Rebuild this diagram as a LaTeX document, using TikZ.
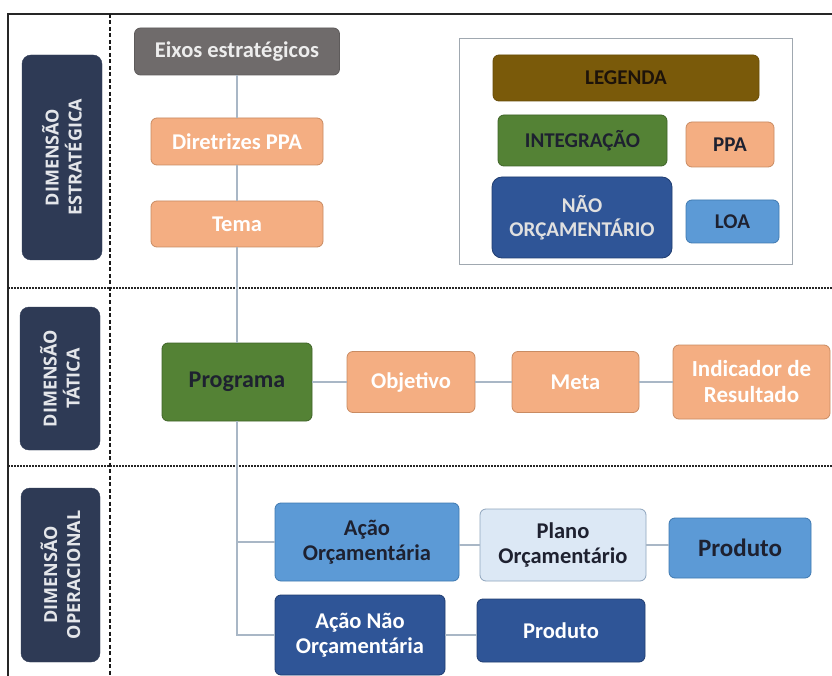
\documentclass[tikz,border=0pt]{standalone}
\usepackage{fontspec}
\setmainfont{Carlito}
\newfontfamily\labelfont{Open Sans}
\definecolor{navy}{HTML}{2E3A55}
\definecolor{navytext}{HTML}{E4E6EA}
\definecolor{eixosgrey}{HTML}{6F6B6B}
\definecolor{orangefill}{HTML}{F4AE82}
\definecolor{orangeedge}{HTML}{C98B62}
\definecolor{greenfill}{HTML}{548235}
\definecolor{greenedge}{HTML}{3F6428}
\definecolor{brownfill}{HTML}{7A5A0A}
\definecolor{midblue}{HTML}{5C9AD6}
\definecolor{midblueedge}{HTML}{3F79B0}
\definecolor{lightblue}{HTML}{DCE8F5}
\definecolor{lightblueedge}{HTML}{8FA5BD}
\definecolor{darkblue}{HTML}{2F5597}
\definecolor{darkblueedge}{HTML}{203D70}
\definecolor{connline}{HTML}{A9B7C6}
\definecolor{legedge}{HTML}{A0A8B0}
\definecolor{darktext}{HTML}{1E2130}
\tikzset{
  box/.style={rounded corners=6pt, draw, line width=0.8pt, inner sep=0pt, align=center,
    font=\bfseries\fontsize{22.5}{25}\selectfont},
  legbox/.style={box, font=\bfseries\fontsize{21}{24}\selectfont},
  dimbox/.style={rounded corners=9pt, fill=navy, draw=navy, inner sep=0pt, align=center,
    text=navytext, rotate=90, font=\labelfont\bfseries\fontsize{18}{23}\selectfont},
  orangebox/.style={box, fill=orangefill, draw=orangeedge, text=white},
  greenbox/.style={box, fill=greenfill, draw=greenedge, text=darktext},
  midbluebox/.style={box, fill=midblue, draw=midblueedge, text=darktext},
  darkbluebox/.style={box, fill=darkblue, draw=darkblueedge, text=white},
  lightbluebox/.style={box, fill=lightblue, draw=lightblueedge, text=darktext},
  conn/.style={draw=connline, line width=1.6pt},
  sepdot/.style={line width=1.6pt, dash pattern=on 1.6pt off 1.4pt, black!85},
  sepdash/.style={line width=1.6pt, dash pattern=on 4pt off 2.5pt, black!90},
}
\begin{document}
\begin{tikzpicture}[x=1pt,y=-1pt]
\useasboundingbox[fill=white] (0,0) rectangle (832,676);

% frame and separators
\draw[line width=2pt, black!85] (8,676) -- (8,14) -- (832,14);
\draw[sepdot] (8,288) -- (832,288);
\draw[sepdot] (8,466) -- (832,466);
\draw[sepdash] (110,14) -- (110,676);

% dimension labels
\node[dimbox, minimum width=205, minimum height=80] (dimE) at (62,157.5) {DIMENSÃO\\ESTRATÉGICA};
\node[dimbox, minimum width=143, minimum height=80] (dimT) at (60,378.5) {DIMENSÃO\\TÁTICA};
\node[dimbox, minimum width=174, minimum height=79] (dimO) at (60.5,575) {DIMENSÃO\\OPERACIONAL};

% strategic
\node[box, fill=eixosgrey, draw=eixosgrey!85!black, text=white!93!black, minimum width=205, minimum height=47] (eixos) at (237,51.5) {Eixos estratégicos};
\node[orangebox, minimum width=172, minimum height=47] (diretrizes) at (237,141.5) {Diretrizes PPA};
\node[orangebox, minimum width=172, minimum height=46] (tema) at (237,224) {Tema};

% legend
\node[draw=legedge, line width=1pt, minimum width=333, minimum height=226, inner sep=0pt] (legframe) at (625.5,152) {};
\node[legbox, fill=brownfill, draw=brownfill!85!black, text=black!85!brown, minimum width=266, minimum height=46] (legenda) at (626,78) {LEGENDA};
\node[legbox, fill=greenfill, draw=greenedge, text=darktext, minimum width=169, minimum height=51] (integ) at (582.5,140.5) {INTEGRAÇÃO};
\node[legbox, fill=orangefill, draw=orangeedge, text=darktext, minimum width=88, minimum height=45] (ppaL) at (730,144.5) {PPA};
\node[legbox, fill=darkblue, draw=darkblueedge, text=white!88!black, rounded corners=10pt, minimum width=180, minimum height=81] (naoorc) at (582,217.5) {NÃO\\ORÇAMENTÁRIO};
\node[legbox, fill=midblue, draw=midblueedge, text=darktext, minimum width=93, minimum height=43] (loa) at (732.5,221.5) {LOA};

% tactical
\node[greenbox, font=\bfseries\fontsize{24}{26}\selectfont, minimum width=150, minimum height=78] (programa) at (237,382) {Programa};
\node[orangebox, minimum width=128, minimum height=61] (objetivo) at (411,382) {Objetivo};
\node[orangebox, minimum width=127, minimum height=61] (meta) at (575.5,382) {Meta};
\node[orangebox, font=\bfseries\fontsize{23}{26}\selectfont, minimum width=157, minimum height=74] (indicador) at (751.5,382) {Indicador de\\Resultado};

% operational
\node[midbluebox, minimum width=184, minimum height=78] (acaoOrc) at (367,542) {Ação\\Orçamentária};
\node[lightbluebox, minimum width=166, minimum height=72] (plano) at (563,545) {Plano\\Orçamentário};
\node[midbluebox, font=\bfseries\fontsize{25}{27}\selectfont, minimum width=142, minimum height=60] (produto1) at (740,548) {Produto};
\node[darkbluebox, minimum width=170, minimum height=80] (acaoNao) at (360,635) {Ação Não\\Orçamentária};
\node[darkbluebox, minimum width=168, minimum height=63] (produto2) at (561,630.5) {Produto};

% connectors
\draw[conn] (eixos.south) -- (diretrizes.north);
\draw[conn] (diretrizes.south) -- (tema.north);
\draw[conn] (tema.south) -- (programa.north);
\draw[conn] (programa.east) -- (objetivo.west);
\draw[conn] (objetivo.east) -- (meta.west);
\draw[conn] (meta.east) -- (indicador.west);
\draw[conn] (programa.south) -- (programa.south |- acaoNao.west) -- (acaoNao.west);
\draw[conn] (programa.south |- acaoOrc.west) -- (acaoOrc.west);
\draw[conn] (acaoOrc.east |- plano.west) -- (plano.west);
\draw[conn] (plano.east) -- (plano.east -| produto1.west);
\draw[conn] (acaoNao.east) -- (acaoNao.east -| produto2.west);
\end{tikzpicture}
\end{document}
